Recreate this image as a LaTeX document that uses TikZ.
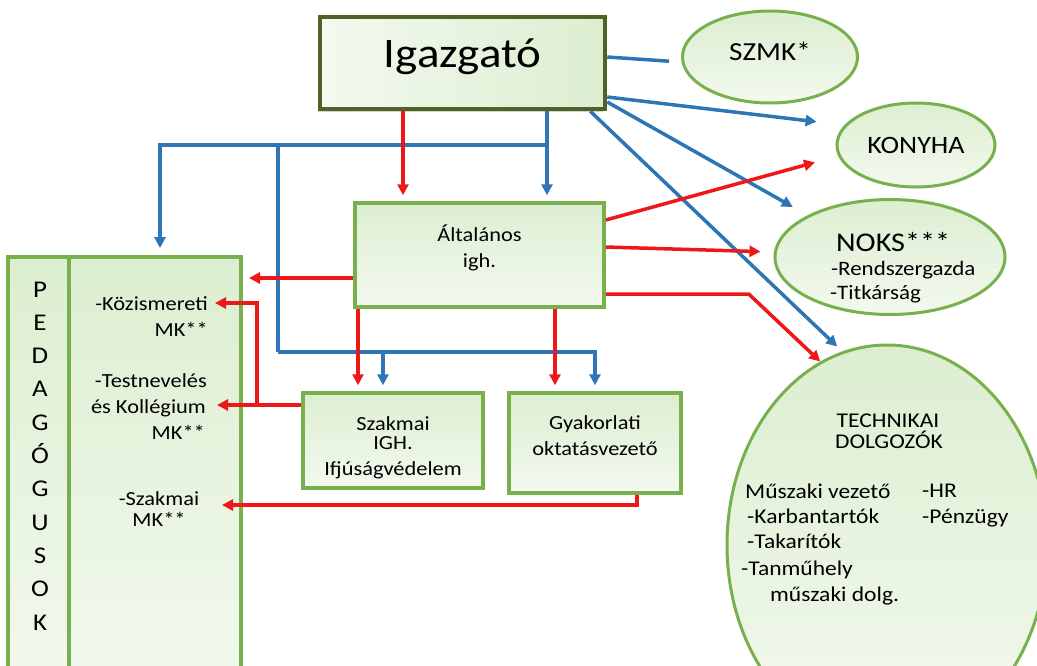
\documentclass[tikz,border=0pt]{standalone}
\usepackage{fontspec}
\setmainfont{Carlito}[FakeStretch=1.12]
\usepackage{tikz}
\usetikzlibrary{shapes.geometric,arrows.meta,shadows}
\definecolor{keretzold}{RGB}{119,176,76}
\definecolor{sotetzold}{RGB}{79,98,40}
\definecolor{toltes}{RGB}{220,238,208}
\definecolor{toltesvil}{RGB}{243,249,239}
\definecolor{piros}{RGB}{238,24,24}
\definecolor{kek}{RGB}{46,117,182}
\tikzstyle{headbox}=[rectangle,
	line width=4.5pt,
	draw=sotetzold,
	left color=toltesvil,
	right color=toltes,
	drop shadow={opacity=0.35,shadow xshift=-2pt,shadow yshift=-3pt},
	text depth=20pt,
	font=\fontsize{42}{48}\selectfont]
\tikzstyle{box}=[rectangle,
	line width=3.5pt,
	draw=keretzold,
	top color=toltes,
	bottom color=toltesvil,
	align=center,
	font=\fontsize{20}{26}\selectfont]
\tikzstyle{oval}=[ellipse,
	line width=3pt,
	draw=keretzold,
	top color=toltes,
	bottom color=toltesvil,
	inner sep=0pt]
\tikzstyle{lbl}=[inner sep=0pt,
	font=\fontsize{20}{26}\selectfont]
\tikzstyle{techlbl}=[inner sep=0pt,
	font=\fontsize{21}{25}\selectfont]
\tikzstyle{redline}=[draw=piros,
	line width=3.5pt]
\tikzstyle{redarrow}=[redline,
	-{Triangle[length=11pt,width=11pt]}]
\tikzstyle{blueline}=[draw=kek,
	line width=3.5pt]
\tikzstyle{bluearrow}=[blueline,
	-{Triangle[length=11pt,width=11pt]}]

\begin{document}
\begin{tikzpicture}[x=1pt,y=-1pt]
	\useasboundingbox (0,0) rectangle (1037,665);
	\clip (0,0) rectangle (1037,665);

	% boxes
	\node (igazgato) [headbox, minimum width=285pt, minimum height=92pt] at (462.5,63) {Igazgató};
	\node (altalanos) [box, minimum width=249pt, minimum height=104pt] at (479.5,255) {Általános\\igh.\rule[-18pt]{0pt}{18pt}};
	\node (szakmai) [box, minimum width=180pt, minimum height=95pt] at (393,440.5) {\rule{0pt}{28pt}Szakmai\\[-7pt]IGH.\\Ifjúságvédelem};
	\node (gyakorlati) [box, minimum width=172pt, minimum height=100pt] at (595,443) {Gyakorlati\\oktatásvezető\rule[-14pt]{0pt}{14pt}};
	\node (pedbal) [box, line width=4pt, minimum width=61pt, minimum height=443pt] at (38.5,478.5) {};
	\node (pedjobb) [box, line width=4pt, minimum width=172pt, minimum height=443pt] at (155,478.5) {};

	% ovals
	\node (szmk) [oval, minimum width=175pt, minimum height=92pt, text depth=11pt, font=\fontsize{26}{30}\selectfont] at (770,57) {SZMK*};
	\node (konyha) [oval, minimum width=158pt, minimum height=84pt, font=\fontsize{25}{28}\selectfont] at (916,145) {KONYHA};
	\node (noks) [oval, minimum width=230pt, minimum height=115pt] at (890,257) {};
	\node (technikai) [oval, minimum width=320pt, minimum height=400pt] at (887,545) {};

	% pedagogusok
	\foreach \betu [count=\i from 0] in {P,E,D,A,G,Ó,G,U,S,O,K}
		\node (ped\i) [lbl, anchor=base, font=\fontsize{24}{26}\selectfont] at (40,{297+33.3*\i}) {\betu};
	\node (kozism1) [lbl, anchor=base east] at (208,310) {-Közismereti};
	\node (kozism2) [lbl, anchor=base east] at (208,336) {MK**};
	\node (testnev1) [lbl, anchor=base east] at (207,387) {-Testnevelés};
	\node (testnev2) [lbl, anchor=base east] at (206,413) {és Kollégium};
	\node (testnev3) [lbl, anchor=base east] at (205,439) {MK**};
	\node (szakmk1) [lbl, anchor=base] at (159,505) {-Szakmai};
	\node (szakmk2) [lbl, anchor=base] at (159,526) {MK**};

	% noks
	\node (noks1) [lbl, anchor=base west, font=\fontsize{27}{30}\selectfont] at (836,251) {NOKS***};
	\node (noks2) [lbl, anchor=base west, font=\fontsize{20.5}{24}\selectfont] at (831,275) {-Rendszergazda};
	\node (noks3) [lbl, anchor=base west, font=\fontsize{20.5}{24}\selectfont] at (830,299) {-Titkárság};

	% technikai dolgozok
	\node (tech1) [techlbl, anchor=base] at (888,427) {TECHNIKAI};
	\node (tech2) [techlbl, anchor=base] at (889,448) {DOLGOZÓK};
	\node (muszaki) [techlbl, anchor=base west] at (745,498) {Műszaki vezető};
	\node (karban) [techlbl, anchor=base west] at (747,523) {-Karbantartók};
	\node (takar) [techlbl, anchor=base west] at (747,548) {-Takarítók};
	\node (tanmuh) [techlbl, anchor=base west] at (741,575) {-Tanműhely};
	\node (tanmuh2) [techlbl, anchor=base west] at (770,601) {műszaki dolg.};
	\node (hr) [techlbl, anchor=base west] at (922,497) {-HR};
	\node (penzugy) [techlbl, anchor=base west] at (922,523) {-Pénzügy};

	% junctions
	\coordinate (bluejoin) at (547,145);
	\coordinate (bluedrop) at (278,145);
	\coordinate (bluebottom) at (278,352);
	\coordinate (bluesplit) at (383,352);
	\coordinate (redsplit) at (257,405);
	\coordinate (kozism-tip) at (215,303);
	\coordinate (testnev-tip) at (217,405);
	\coordinate (szakmk-tip) at (222,505);

	% blue lines
	\draw[blueline, shorten >=12pt] ([yshift=6pt]igazgato.east) -- ([yshift=-5pt]szmk.west);
	\draw[bluearrow, shorten >=19pt] ([yshift=-34pt]igazgato.east) -- ([yshift=21pt]konyha.west);
	\draw[bluearrow, shorten >=17pt] ([yshift=-39pt]igazgato.east) -- (noks.north west);
	\draw[bluearrow, shorten >=7pt] ([xshift=-17pt]igazgato.south east) -- (technikai.103);
	\draw[bluearrow, shorten >=6pt] ([xshift=84.5pt]igazgato.south) -- ([xshift=67.5pt]altalanos.north);
	\draw[bluearrow, shorten >=7pt] (bluejoin) -| ([xshift=5pt]pedjobb.north);
	\draw[blueline] (bluedrop) -- (bluebottom);
	\draw[bluearrow, shorten >=6pt] (bluebottom) -| (gyakorlati.north);
	\draw[bluearrow, shorten >=6pt] (bluesplit) -- (bluesplit |- szakmai.north);

	% red lines
	\draw[redarrow, shorten >=6pt] ([xshift=-59.5pt]igazgato.south) -- ([xshift=-76.5pt]altalanos.north);
	\draw[redarrow, shorten >=6pt] ([yshift=-23pt]altalanos.west) -- ([yshift=200.5pt]pedjobb.east);
	\draw[redarrow, shorten >=6pt] ([xshift=-121.5pt]altalanos.south) -- ([xshift=-35pt]szakmai.north);
	\draw[redarrow, shorten >=6pt] ([xshift=75.5pt]altalanos.south) -- ([xshift=-40pt]gyakorlati.north);
	\draw[redarrow, shorten >=24pt] ([yshift=35pt]altalanos.east) -- (konyha.188);
	\draw[redarrow, shorten >=13pt] ([yshift=8pt]altalanos.east) -- ([yshift=5pt]noks.west);
	\draw[redarrow] ([yshift=-39pt]altalanos.east) -- ++(143,0) -- (technikai.110);
	\draw[redarrow] ([yshift=35.5pt]szakmai.west) -- (testnev-tip);
	\draw[redarrow] (redsplit) |- (kozism-tip);
	\draw[redarrow] ([xshift=42pt]gyakorlati.south) |- (szakmk-tip);
\end{tikzpicture}
\end{document}
